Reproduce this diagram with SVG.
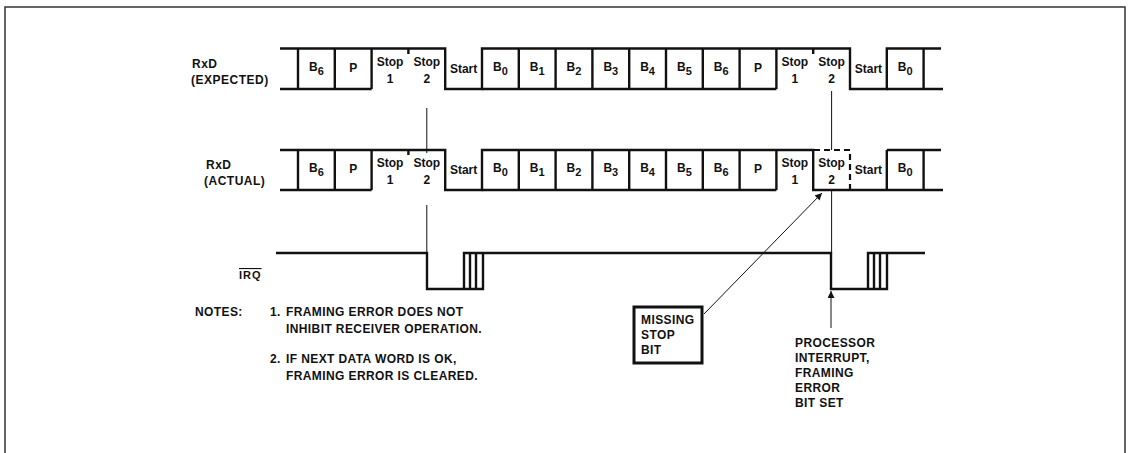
<svg xmlns="http://www.w3.org/2000/svg" width="1132" height="453" viewBox="0 0 1132 453">
<style>
text{font-family:"Liberation Sans",Arial,sans-serif;font-weight:bold;fill:#111}
.lbl{font-size:12px;letter-spacing:0.5px}
.cell{font-size:12px;text-anchor:middle}
.sub{font-size:11px}
.note{font-size:12px;letter-spacing:0.4px}
.wave{fill:none;stroke:#111;stroke-width:2.4;stroke-linejoin:miter}
.thin{fill:none;stroke:#111;stroke-width:1}
.dash{fill:none;stroke:#111;stroke-width:2.2;stroke-dasharray:6 4}
.frame{fill:none;stroke:#333;stroke-width:1.5}
</style>
<defs>
<marker id="ah" viewBox="0 0 10 10" refX="10" refY="5" markerWidth="9" markerHeight="7" markerUnits="userSpaceOnUse" orient="auto">
<path d="M0,0 L10,5 L0,10 z" fill="#111"/>
</marker>
</defs>
<path class="frame" d="M5,453 V7 H1125 V453"/>

<g id="rxd-expected">
<text class="lbl" x="192" y="68">RxD</text>
<text class="lbl" x="191" y="84">(EXPECTED)</text>
<path class="wave" d="M280,48.5 H445.2 V89 H482 V48.5 H850 V89 H886.8 V48.5 H941"/>
<path class="wave" d="M280,89 H371.6 M482,89 H776.4 M886.8,89 H943"/>
<path class="wave" d="M298,48.5 V89 M334.8,48.5 V89 M371.6,48.5 V89 M518.8,48.5 V89 M555.6,48.5 V89 M592.4,48.5 V89 M629.2,48.5 V89 M666,48.5 V89 M702.8,48.5 V89 M739.6,48.5 V89 M776.4,48.5 V89 M923.6,48.5 V89 M408.4,48.5 V54 M813.2,48.5 V54"/>
<text class="cell" x="316.4" y="71">B<tspan class="sub" dy="4">6</tspan></text>
<text class="cell" x="353.2" y="72">P</text>
<text class="cell" x="390" y="66">Stop</text><text class="cell" x="390" y="83">1</text>
<text class="cell" x="426.8" y="66">Stop</text><text class="cell" x="426.8" y="83">2</text>
<text class="cell" x="463.6" y="73">Start</text>
<text class="cell" x="500.4" y="71">B<tspan class="sub" dy="4">0</tspan></text>
<text class="cell" x="537.2" y="71">B<tspan class="sub" dy="4">1</tspan></text>
<text class="cell" x="574" y="71">B<tspan class="sub" dy="4">2</tspan></text>
<text class="cell" x="610.8" y="71">B<tspan class="sub" dy="4">3</tspan></text>
<text class="cell" x="647.6" y="71">B<tspan class="sub" dy="4">4</tspan></text>
<text class="cell" x="684.4" y="71">B<tspan class="sub" dy="4">5</tspan></text>
<text class="cell" x="721.2" y="71">B<tspan class="sub" dy="4">6</tspan></text>
<text class="cell" x="758" y="72">P</text>
<text class="cell" x="794.8" y="66">Stop</text><text class="cell" x="794.8" y="83">1</text>
<text class="cell" x="831.6" y="66">Stop</text><text class="cell" x="831.6" y="83">2</text>
<text class="cell" x="868.4" y="73">Start</text>
<text class="cell" x="905.2" y="71">B<tspan class="sub" dy="4">0</tspan></text>
</g>

<g id="rxd-actual">
<text class="lbl" x="206" y="169">RxD</text>
<text class="lbl" x="204" y="185">(ACTUAL)</text>
<path class="wave" d="M280,150 H445.2 V190 H482 V150 H813.2 V190 H943"/>
<path class="wave" d="M280,190 H371.6 M482,190 H776.4 M886.8,150 H941"/>
<path class="wave" d="M298,150 V190 M334.8,150 V190 M371.6,150 V190 M518.8,150 V190 M555.6,150 V190 M592.4,150 V190 M629.2,150 V190 M666,150 V190 M702.8,150 V190 M739.6,150 V190 M776.4,150 V190 M886.8,150 V190 M923.6,150 V190 M408.4,150 V155"/>
<path class="dash" d="M814,150 H850 V190"/>
<text class="cell" x="316.4" y="172">B<tspan class="sub" dy="4">6</tspan></text>
<text class="cell" x="353.2" y="173">P</text>
<text class="cell" x="390" y="167">Stop</text><text class="cell" x="390" y="184">1</text>
<text class="cell" x="426.8" y="167">Stop</text><text class="cell" x="426.8" y="184">2</text>
<text class="cell" x="463.6" y="174">Start</text>
<text class="cell" x="500.4" y="172">B<tspan class="sub" dy="4">0</tspan></text>
<text class="cell" x="537.2" y="172">B<tspan class="sub" dy="4">1</tspan></text>
<text class="cell" x="574" y="172">B<tspan class="sub" dy="4">2</tspan></text>
<text class="cell" x="610.8" y="172">B<tspan class="sub" dy="4">3</tspan></text>
<text class="cell" x="647.6" y="172">B<tspan class="sub" dy="4">4</tspan></text>
<text class="cell" x="684.4" y="172">B<tspan class="sub" dy="4">5</tspan></text>
<text class="cell" x="721.2" y="172">B<tspan class="sub" dy="4">6</tspan></text>
<text class="cell" x="758" y="173">P</text>
<text class="cell" x="794.8" y="167">Stop</text><text class="cell" x="794.8" y="184">1</text>
<text class="cell" x="831.6" y="167">Stop</text><text class="cell" x="831.6" y="184">2</text>
<text class="cell" x="868.4" y="174">Start</text>
<text class="cell" x="905.2" y="172">B<tspan class="sub" dy="4">0</tspan></text>
</g>

<g id="irq">
<text class="lbl" x="239" y="279" style="font-size:11px;letter-spacing:1px;text-decoration:overline">IRQ</text>
<path class="wave" d="M276,253 H427 V289 H483 V253 M464,289 V253 H831 V289 H887 V253 M868,289 V253 H925 M470,253 V289 M476,253 V289 M874,253 V289 M880,253 V289"/>
</g>

<g id="missing-stop-bit">
<rect x="634" y="307" width="68" height="56" fill="none" stroke="#111" stroke-width="3"/>
<text class="note" x="641" y="324">MISSING</text>
<text class="note" x="641" y="339">STOP</text>
<text class="note" x="641" y="354">BIT</text>
</g>

<g id="processor-interrupt">
<text class="note" x="795" y="347">PROCESSOR</text>
<text class="note" x="795" y="362">INTERRUPT,</text>
<text class="note" x="795" y="377">FRAMING</text>
<text class="note" x="795" y="392">ERROR</text>
<text class="note" x="795" y="407">BIT SET</text>
</g>

<g id="notes">
<text class="note" x="195" y="316">NOTES:</text>
<text class="note" x="270" y="316">1.</text>
<text class="note" x="286" y="316">FRAMING ERROR DOES NOT</text>
<text class="note" x="286" y="333">INHIBIT RECEIVER OPERATION.</text>
<text class="note" x="270" y="363">2.</text>
<text class="note" x="286" y="363">IF NEXT DATA WORD IS OK,</text>
<text class="note" x="286" y="380">FRAMING ERROR IS CLEARED.</text>
</g>

<g id="connectors">
<path class="thin" d="M426.8,108 V153 M426.8,205 V253"/>
<path class="thin" d="M831.6,91 V150 M831.6,190 V253"/>
<line class="thin" x1="704" y1="314" x2="822" y2="193" marker-end="url(#ah)"/>
<line class="thin" x1="831" y1="328" x2="831" y2="291" marker-end="url(#ah)"/>
</g>
</svg>
